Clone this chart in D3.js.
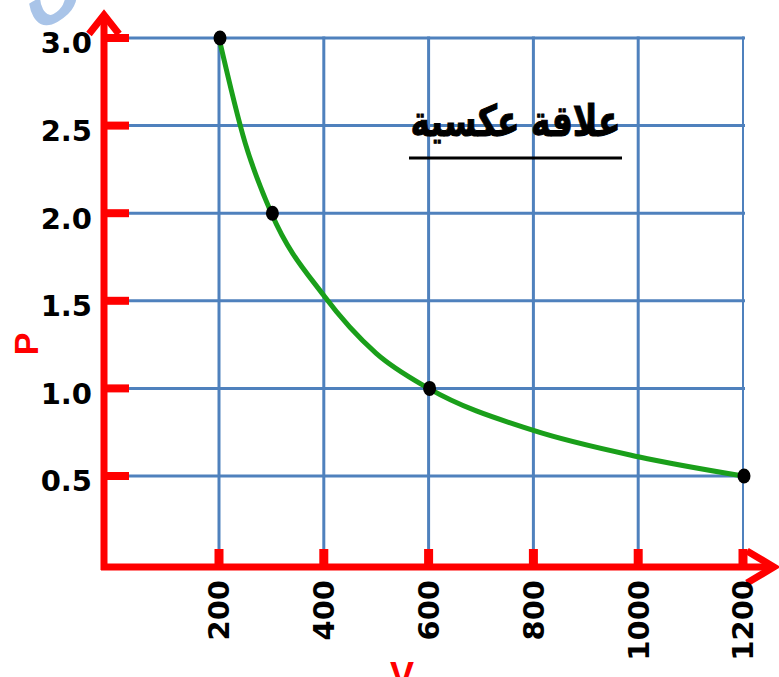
<!DOCTYPE html>
<html><head><meta charset="utf-8">
<script src="https://cdn.jsdelivr.net/npm/d3@7"></script>
<style>html,body{margin:0;padding:0;background:#fff;overflow:hidden}</style>
</head><body>
<svg id="c" width="779" height="677"></svg>
<script>
// Data
const pointsV = [200, 300, 600, 1200];
const pointsP = [3.0, 2.0, 1.0, 0.5];
const curveV = [200, 250, 300, 400, 500, 600, 800, 1000, 1200];
const curveP = [3.0, 2.4, 2.0, 1.53, 1.2, 1.0, 0.76, 0.61, 0.5];
const xTicks = [200, 400, 600, 800, 1000, 1200];
const yTicks = [0.5, 1.0, 1.5, 2.0, 2.5, 3.0];
const yTickLabels = ["0.5", "1.0", "1.5", "2.0", "2.5", "3.0"];
const titleText = "علاقة عكسية";

const svg = d3.select("#c");
const x = d3.scaleLinear().domain([200, 1200]).range([219, 743]);
const y = d3.scaleLinear().domain([0.5, 3]).range([476, 38]);
const axisX = 104, axisY = 567;
const red = "#ff0000", blue = "#4f81bd";

// watermark fragment
svg.append("text").attr("transform", "translate(58,4) rotate(-30)")
  .attr("font-family", "DejaVu Sans").attr("font-weight", "bold").attr("font-size", 70)
  .attr("fill", "#a9c4e8").attr("text-anchor", "middle").text("ق");

// grid
const gridTop = y(3), gridBottom = 549, gridLeft = 129, gridRight = x(1200) + 2;
svg.append("g").selectAll("line").data(yTicks).join("line")
  .attr("x1", gridLeft).attr("x2", gridRight).attr("y1", d => y(d)).attr("y2", d => y(d))
  .attr("stroke", blue).attr("stroke-width", 3);
svg.append("g").selectAll("line").data(xTicks).join("line")
  .attr("x1", d => x(d)).attr("x2", d => x(d)).attr("y1", gridTop - 1.5).attr("y2", gridBottom)
  .attr("stroke", blue).attr("stroke-width", (d, i) => i === xTicks.length - 1 ? 2 : 3);

// axes
svg.append("line").attr("x1", axisX).attr("x2", axisX).attr("y1", 16).attr("y2", axisY + 3)
  .attr("stroke", red).attr("stroke-width", 7);
svg.append("line").attr("x1", axisX - 3).attr("x2", 774).attr("y1", axisY).attr("y2", axisY)
  .attr("stroke", red).attr("stroke-width", 7);
svg.append("path").attr("d", `M${axisX - 15},34 L${axisX},15 L${axisX + 15},34`)
  .attr("fill", "none").attr("stroke", red).attr("stroke-width", 7).attr("stroke-linejoin", "miter");
svg.append("path").attr("d", `M747,551 L774,${axisY} L747,583`)
  .attr("fill", "none").attr("stroke", red).attr("stroke-width", 7).attr("stroke-linejoin", "miter");

// tick marks
svg.append("g").selectAll("rect").data(yTicks).join("rect")
  .attr("x", axisX).attr("y", d => y(d) - 4).attr("width", 25).attr("height", 8).attr("fill", red);
svg.append("g").selectAll("rect").data(xTicks).join("rect")
  .attr("x", d => x(d) - 4.5).attr("y", gridBottom).attr("width", 9).attr("height", axisY - gridBottom).attr("fill", red);

// tick labels
svg.append("g").selectAll("text").data(yTicks).join("text")
  .attr("x", 92).attr("y", d => y(d) + 5).attr("dy", "0.36em").attr("text-anchor", "end")
  .attr("font-family", "DejaVu Sans").attr("font-weight", "bold").attr("font-size", 29)
  .attr("fill", "#000").text((d, i) => yTickLabels[i]);
svg.append("g").selectAll("text").data(xTicks).join("text")
  .attr("transform", d => `translate(${x(d)},580) rotate(-90)`).attr("dy", "0.36em")
  .attr("text-anchor", "end")
  .attr("font-family", "DejaVu Sans").attr("font-weight", "bold").attr("font-size", 29)
  .attr("fill", "#000").text(d => d);

// axis titles
svg.append("text").attr("transform", "translate(38,344) rotate(-90)").attr("text-anchor", "middle")
  .attr("font-family", "Liberation Sans").attr("font-weight", "bold").attr("font-size", 34)
  .attr("fill", red).text("P");
svg.append("text").attr("x", 402).attr("y", 688).attr("text-anchor", "middle")
  .attr("font-family", "Liberation Sans").attr("font-weight", "bold").attr("font-size", 36)
  .attr("fill", red).text("V");

// curve
const curveData = curveV.map((v, i) => ({v, p: curveP[i]}));
svg.append("path").datum(curveData)
  .attr("d", d3.line().x(d => x(d.v)).y(d => y(d.p)).curve(d3.curveMonotoneX))
  .attr("fill", "none").attr("stroke", "#1a9f1a").attr("stroke-width", 5);

// points
const pts = pointsV.map((v, i) => ({v, p: pointsP[i]}));
svg.append("g").selectAll("ellipse").data(pts).join("ellipse")
  .attr("cx", d => x(d.v) + 1).attr("cy", d => y(d.p)).attr("rx", 6.5).attr("ry", 7.5).attr("fill", "#000");

// title
const tg = svg.append("g").attr("transform", "translate(515.5,136) scale(1,1.3)");
const t = tg.append("text").attr("x", 0).attr("y", 0).attr("text-anchor", "middle")
  .attr("font-family", "DejaVu Sans").attr("font-weight", "bold").attr("font-size", 34)
  .attr("stroke", "#000").attr("stroke-width", 0.8)
  .attr("fill", "#000").text(titleText);
const w = t.node().getBBox().width;
if (w > 0) t.attr("font-size", 34 * 210 / w);
svg.append("line").attr("x1", 409).attr("x2", 622).attr("y1", 158).attr("y2", 158)
  .attr("stroke", "#000").attr("stroke-width", 3);
</script>
</body></html>
